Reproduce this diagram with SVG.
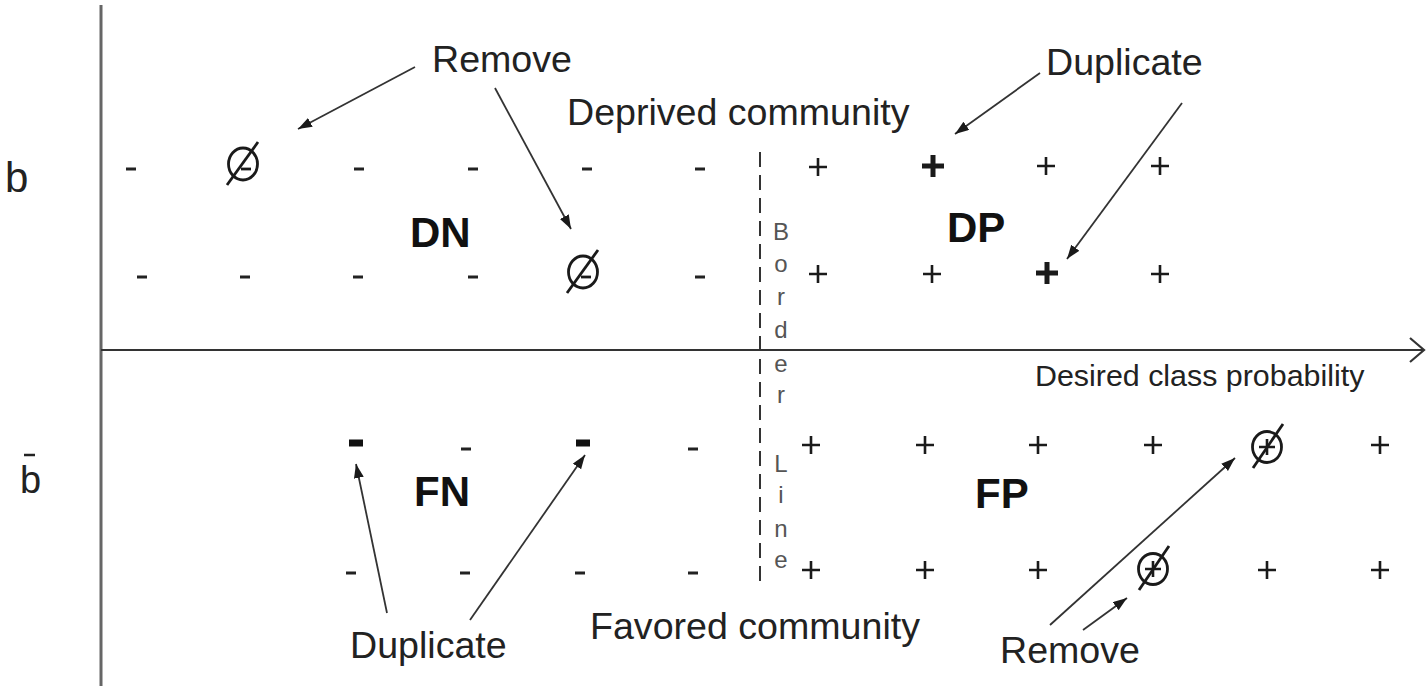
<svg xmlns="http://www.w3.org/2000/svg" xmlns:xlink="http://www.w3.org/1999/xlink" width="1426" height="686" viewBox="0 0 1426 686">
<style>
.t{font-family:"Liberation Sans",Arial,sans-serif;fill:#222;font-size:37.6px}
.q{font-family:"Liberation Sans",Arial,sans-serif;fill:#111;font-size:42px;font-weight:bold}
.bl{font-family:"Liberation Sans",Arial,sans-serif;fill:#555;font-size:24px;text-anchor:middle}
.c{stroke:#333;stroke-width:1.8;fill:none}
.s{stroke:#1a1a1a;fill:none}
</style>
<defs>
<marker id="ah" markerUnits="userSpaceOnUse" markerWidth="16" markerHeight="12" refX="14" refY="5" orient="auto">
<path d="M0,0 L14,5 L0,10 z" fill="#1a1a1a"/>
</marker>
<rect id="mn" x="-5" y="-1.5" width="10" height="3" fill="#222"/>
<rect id="bmn" x="-7" y="-3.5" width="14" height="7" fill="#111"/>
<path id="pl" d="M-9,0 H9 M0,-9 V9" class="s" stroke-width="2.6"/>
<path id="bpl" d="M-11,0 H11 M0,-11 V11" class="s" stroke-width="5"/>
<g id="rmn" class="s" stroke-width="2.8"><ellipse cx="0" cy="0" rx="14.5" ry="16"/><line x1="-16" y1="21" x2="15" y2="-22"/><line x1="-2" y1="5" x2="8" y2="5"/></g>
<g id="rpl" class="s" stroke-width="2.8"><ellipse cx="0" cy="0" rx="14.5" ry="15.5"/><line x1="-14" y1="21" x2="16" y2="-23"/><path d="M-8,0 H8 M0,-8 V8" stroke-width="2.6"/></g>
</defs>
<rect width="1426" height="686" fill="#fff"/>
<g id="axes">
<line x1="101" y1="5" x2="101" y2="686" stroke="#666" stroke-width="3"/>
<line x1="101" y1="350" x2="1423" y2="350" stroke="#333" stroke-width="2.2"/>
<polyline points="1410,338 1424,350 1410,362" fill="none" stroke="#333" stroke-width="2.2"/>
<text class="t" x="1035" y="386" style="font-size:30.4px">Desired class probability</text>
<text class="t" x="5" y="192" style="font-size:42px">b</text>
<text class="t" x="20" y="493" style="font-size:38px">b</text>
<line x1="24" y1="455" x2="35" y2="455" stroke="#222" stroke-width="2.5"/>
</g>
<g id="borderline">
<line x1="760" y1="152" x2="760" y2="582" stroke="#333" stroke-width="2" stroke-dasharray="15 8"/>
<text class="bl" x="781" y="240">B</text>
<text class="bl" x="781" y="272">o</text>
<text class="bl" x="781" y="305">r</text>
<text class="bl" x="781" y="338">d</text>
<text class="bl" x="781" y="372">e</text>
<text class="bl" x="781" y="403">r</text>
<text class="bl" x="781" y="472">L</text>
<text class="bl" x="781" y="503">i</text>
<text class="bl" x="781" y="537">n</text>
<text class="bl" x="781" y="568">e</text>
</g>
<g id="DN">
<use xlink:href="#mn" x="131" y="169"/>
<use xlink:href="#rmn" x="243" y="164"/>
<use xlink:href="#mn" x="359" y="169"/>
<use xlink:href="#mn" x="473" y="169"/>
<use xlink:href="#mn" x="587" y="169"/>
<use xlink:href="#mn" x="700" y="169"/>
<use xlink:href="#mn" x="142" y="277"/>
<use xlink:href="#mn" x="245" y="277"/>
<use xlink:href="#mn" x="358" y="277"/>
<use xlink:href="#mn" x="473" y="277"/>
<use xlink:href="#rmn" x="583" y="272"/>
<use xlink:href="#mn" x="700" y="277"/>
<text class="q" x="410" y="247">DN</text>
</g>
<g id="DP">
<use xlink:href="#pl" x="818" y="167"/>
<use xlink:href="#bpl" x="933" y="166"/>
<use xlink:href="#pl" x="1046" y="166"/>
<use xlink:href="#pl" x="1160" y="166"/>
<use xlink:href="#pl" x="818" y="274"/>
<use xlink:href="#pl" x="932" y="274"/>
<use xlink:href="#bpl" x="1047" y="273"/>
<use xlink:href="#pl" x="1160" y="274"/>
<text class="q" x="947" y="242">DP</text>
</g>
<g id="FN">
<use xlink:href="#bmn" x="356" y="443"/>
<use xlink:href="#mn" x="466" y="449"/>
<use xlink:href="#bmn" x="583" y="443"/>
<use xlink:href="#mn" x="693" y="449"/>
<use xlink:href="#mn" x="351" y="573"/>
<use xlink:href="#mn" x="465" y="573"/>
<use xlink:href="#mn" x="580" y="573"/>
<use xlink:href="#mn" x="693" y="573"/>
<text class="q" x="414" y="506">FN</text>
</g>
<g id="FP">
<use xlink:href="#pl" x="811" y="445"/>
<use xlink:href="#pl" x="925" y="445"/>
<use xlink:href="#pl" x="1038" y="445"/>
<use xlink:href="#pl" x="1153" y="445"/>
<use xlink:href="#rpl" x="1267" y="447"/>
<use xlink:href="#pl" x="1380" y="445"/>
<use xlink:href="#pl" x="811" y="570"/>
<use xlink:href="#pl" x="925" y="570"/>
<use xlink:href="#pl" x="1038" y="570"/>
<use xlink:href="#rpl" x="1153" y="569"/>
<use xlink:href="#pl" x="1267" y="570"/>
<use xlink:href="#pl" x="1380" y="570"/>
<text class="q" x="975" y="508">FP</text>
</g>
<g id="labels">
<text class="t" x="432" y="72">Remove</text>
<text class="t" x="567" y="125">Deprived community</text>
<text class="t" x="1046" y="75">Duplicate</text>
<text class="t" x="590" y="639">Favored community</text>
<text class="t" x="350" y="658">Duplicate</text>
<text class="t" x="1000" y="663">Remove</text>
</g>
<g id="connectors" class="c" marker-end="url(#ah)">
<line x1="415" y1="67" x2="298" y2="129"/>
<line x1="495" y1="88" x2="571" y2="229"/>
<line x1="1040" y1="73" x2="955" y2="134"/>
<line x1="1182" y1="103" x2="1067" y2="259"/>
<line x1="387" y1="613" x2="356" y2="464"/>
<line x1="470" y1="620" x2="585" y2="455"/>
<line x1="1050" y1="625" x2="1235" y2="458"/>
<line x1="1083" y1="630" x2="1127" y2="598"/>
</g>
</svg>
